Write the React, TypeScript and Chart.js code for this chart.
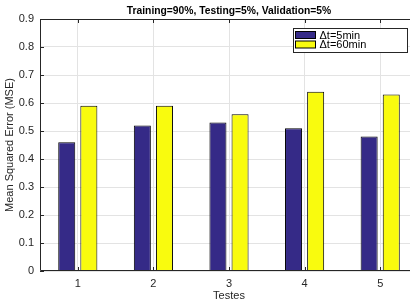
import React, { useEffect, useRef } from "react";
import { Chart, registerables } from "chart.js";

Chart.register(...registerables);

const categories = ["1", "2", "3", "4", "5"];
const mse5min = [0.46, 0.52, 0.53, 0.51, 0.48];
const mse60min = [0.59, 0.59, 0.56, 0.64, 0.63];
const seriesLabels = ["Δt=5min", "Δt=60min"];
const seriesColors = ["rgb(53,42,135)", "rgb(249,251,14)"];
const chartTitle = "Training=90%, Testing=5%, Validation=5%";
const xTitle = "Testes";
const yTitle = "Mean Squared Error (MSE)";
const yMin = 0;
const yMax = 0.9;
const yStep = 0.1;

const FONT = "'Liberation Sans', Arial, Helvetica, sans-serif";
const AXIS_COLOR = "#262626";

const decorPlugin = {
  id: "decor",
  afterDraw(chart: any) {
    const { ctx, chartArea, scales } = chart;
    const { left, right, top, bottom } = chartArea;
    ctx.save();
    // title
    ctx.fillStyle = "#000";
    ctx.font = `bold 10.3px ${FONT}`;
    ctx.textAlign = "center";
    ctx.textBaseline = "middle";
    ctx.fillText(chartTitle, (left + right) / 2, 11);

    // axes box
    ctx.strokeStyle = AXIS_COLOR;
    ctx.lineWidth = 1;
    ctx.beginPath();
    ctx.moveTo(left + 0.5, top + 0.5);
    ctx.lineTo(right - 0.5, top + 0.5);
    ctx.lineTo(right - 0.5, bottom - 0.5);
    ctx.lineTo(left + 0.5, bottom - 0.5);
    ctx.closePath();
    ctx.stroke();

    // inner ticks
    const tl = 4;
    ctx.beginPath();
    scales.y.ticks.forEach((t: any) => {
      const y = Math.round(scales.y.getPixelForValue(t.value)) + 0.5;
      ctx.moveTo(left, y);
      ctx.lineTo(left + tl, y);
      ctx.moveTo(right, y);
      ctx.lineTo(right - tl, y);
    });
    categories.forEach((_, i) => {
      const x = Math.round(scales.x.getPixelForValue(i)) + 0.5;
      ctx.moveTo(x, bottom);
      ctx.lineTo(x, bottom - tl);
      ctx.moveTo(x, top);
      ctx.lineTo(x, top + tl);
    });
    ctx.stroke();

    // legend
    const lx = 293.5, ly = 28.5, lw = 114, lh = 24;
    ctx.fillStyle = "#fff";
    ctx.fillRect(lx, ly, lw, lh);
    ctx.strokeStyle = AXIS_COLOR;
    ctx.strokeRect(lx, ly, lw, lh);
    ctx.font = `11px ${FONT}`;
    ctx.textAlign = "left";
    ctx.textBaseline = "middle";
    seriesLabels.forEach((lab, i) => {
      const sy = ly + 3 + i * 9.5;
      ctx.fillStyle = seriesColors[i];
      ctx.fillRect(lx + 2, sy, 20, 7);
      ctx.strokeStyle = "#000";
      ctx.strokeRect(lx + 2, sy, 20, 7);
      ctx.fillStyle = "#000";
      ctx.fillText(lab, lx + 26, sy + 4);
    });
    ctx.restore();
  },
};

export default function App() {
  const ref = useRef<HTMLCanvasElement | null>(null);
  useEffect(() => {
    document.body.style.margin = "0";
    const canvas = ref.current;
    if (!canvas) return;
    const chart = new Chart(canvas, {
      type: "bar",
      data: {
        labels: categories,
        datasets: [
          {
            label: seriesLabels[0],
            data: mse5min,
            backgroundColor: seriesColors[0],
            borderColor: "#000",
            borderWidth: 1,
            categoryPercentage: 0.585,
            barPercentage: 0.77,
          },
          {
            label: seriesLabels[1],
            data: mse60min,
            backgroundColor: seriesColors[1],
            borderColor: "#000",
            borderWidth: 1,
            categoryPercentage: 0.585,
            barPercentage: 0.77,
          },
        ],
      },
      options: {
        responsive: false,
        animation: false,
        devicePixelRatio: 1,
        layout: { padding: { top: 19, left: 0, right: 0, bottom: 0 } },
        plugins: {
          legend: { display: false },
          title: { display: false },
          tooltip: { enabled: false },
        },
        scales: {
          x: {
            type: "category",
            offset: true,
            grid: { offset: false, color: "#e3e3e3", drawTicks: false },
            border: { display: false },
            ticks: { padding: 6, color: AXIS_COLOR, font: { family: FONT, size: 11 } },
            title: {
              display: true,
              text: xTitle,
              color: AXIS_COLOR,
              font: { family: FONT, size: 11 },
              padding: { top: 0, bottom: 0 },
            },
            afterFit: (s: any) => {
              s.height = 32;
            },
          },
          y: {
            min: yMin,
            max: yMax,
            grid: { color: "#e3e3e3", drawTicks: false },
            border: { display: false },
            ticks: {
              stepSize: yStep,
              padding: 6,
              color: AXIS_COLOR,
              font: { family: FONT, size: 11 },
              callback: (v: any) => String(Math.round(Number(v) * 10) / 10),
            },
            title: {
              display: true,
              text: yTitle,
              color: AXIS_COLOR,
              font: { family: FONT, size: 11 },
              padding: { top: 3, bottom: 0 },
            },
            afterFit: (s: any) => {
              s.width = 40;
            },
          },
        },
      },
      plugins: [decorPlugin],
    });
    return () => chart.destroy();
  }, []);
  return (
    <div style={{ position: "absolute", left: 0, top: 0, width: 410, height: 303, overflow: "hidden", background: "#fff" }}>
      <canvas ref={ref} width={418} height={303} style={{ display: "block" }} />
    </div>
  );
}
